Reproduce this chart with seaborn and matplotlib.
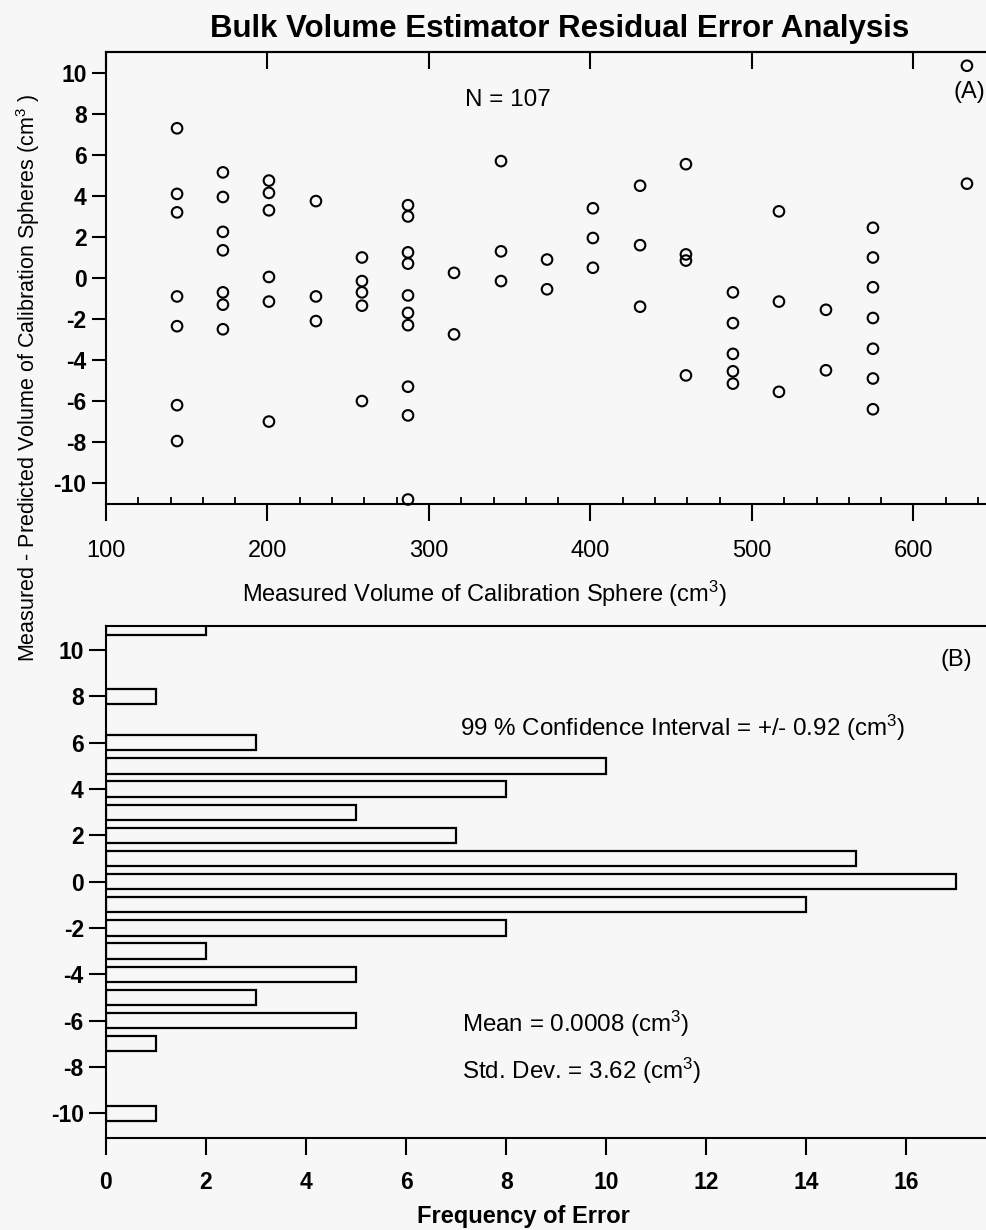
import matplotlib
matplotlib.use("Agg")
import matplotlib.pyplot as plt
from matplotlib.ticker import MultipleLocator, FixedLocator
import numpy as np
import pandas as pd
import seaborn as sns

# ---- data -------------------------------------------------------------
# calibration sphere volumes (cm^3) and the residuals observed for each
sphere_volumes = [144.0, 172.4, 200.9, 230.0, 258.5, 287.0, 315.5, 344.6, 373.1,
                  401.5, 430.7, 459.1, 488.2, 516.7, 545.8, 574.9, 633.1]
residuals_by_sphere = [
    [7.3, 4.1, 3.2, -0.9, -2.35, -6.2, -7.95],
    [5.15, 3.95, 2.25, 1.35, -0.7, -1.3, -2.5],
    [4.75, 4.15, 3.3, 0.05, -1.15, -7.0],
    [3.75, -0.9, -2.1],
    [1.0, -0.15, -0.7, -1.35, -6.0],
    [3.55, 3.0, 1.25, 0.7, -0.85, -1.7, -2.3, -5.3, -6.7, -10.8],
    [0.25, -2.75],
    [5.7, 1.3, -0.15],
    [0.9, -0.55],
    [3.4, 1.95, 0.5],
    [4.5, 1.6, -1.4],
    [5.55, 1.15, 0.85, -4.75],
    [-0.7, -2.2, -3.7, -4.55, -5.15],
    [3.25, -1.15, -5.55],
    [-1.55, -4.5],
    [2.45, 1.0, -0.45, -1.95, -3.45, -4.9, -6.4],
    [10.35, 4.6],
]

# histogram of residuals (1 cm^3 bins)
error_bins = [11, 8, 6, 5, 4, 3, 2, 1, 0, -1, -2, -3, -4, -5, -6, -7, -10]
error_counts = [2, 1, 3, 10, 8, 5, 7, 15, 17, 14, 8, 2, 5, 3, 5, 1, 1]

x_ticks_a = [100, 200, 300, 400, 500, 600]
y_ticks = [-10, -8, -6, -4, -2, 0, 2, 4, 6, 8, 10]
x_ticks_b = [0, 2, 4, 6, 8, 10, 12, 14, 16]

# ---- style ------------------------------------------------------------
BG = "#f7f7f7"
sns.set_theme(style="ticks")
plt.rcParams["font.family"] = ["Liberation Sans", "DejaVu Sans"]
plt.rcParams.update({
    "mathtext.fontset": "custom",
    "mathtext.rm": "Liberation Sans",
    "mathtext.it": "Liberation Sans:italic",
    "mathtext.bf": "Liberation Sans:bold",
    "axes.unicode_minus": False,
    "figure.facecolor": BG,
    "axes.facecolor": BG,
    "axes.edgecolor": "black",
    "axes.linewidth": 1.5,
    "text.color": "black",
    "xtick.color": "black",
    "ytick.color": "black",
})

scatter_df = pd.DataFrame({
    "volume": [v for v, rs in zip(sphere_volumes, residuals_by_sphere) for _ in rs],
    "residual": [r for rs in residuals_by_sphere for r in rs],
})
hist_df = pd.DataFrame({"error_bin": error_bins, "frequency": error_counts})

W, H = 986, 1230
fig = plt.figure(figsize=(W / 100, H / 100), dpi=100)


def fig_rect(left, top, right, bottom):
    return [left / W, 1 - bottom / H, (right - left) / W, (bottom - top) / H]


ax1 = fig.add_axes(fig_rect(106, 52, 986, 504))
ax2 = fig.add_axes(fig_rect(106, 626, 986, 1138))

# ---- panel A: residuals vs. sphere volume ------------------------------
sns.scatterplot(data=scatter_df, x="volume", y="residual", ax=ax1,
                marker="o", s=58, facecolor="none", edgecolor="black",
                linewidth=1.5, clip_on=False, zorder=3)
ax1.set_xlim(100, 644.9)
ax1.set_ylim(-11.02, 11.02)
ax1.xaxis.set_major_locator(FixedLocator(x_ticks_a))
ax1.xaxis.set_minor_locator(MultipleLocator(20))
ax1.yaxis.set_major_locator(FixedLocator(y_ticks))
ax1.tick_params(axis="x", which="major", direction="out", length=12, width=1.5,
                labelsize=17, pad=14, top=False)
ax1.tick_params(axis="x", which="minor", direction="in", length=5, width=1.3,
                top=False)
ax1.tick_params(axis="y", which="major", direction="out", length=10, width=1.5,
                labelsize=16.5, pad=4, right=False)
for lab in ax1.get_yticklabels():
    lab.set_fontweight("bold")
ax1.spines["right"].set_visible(False)
ax1.set_xlabel("")
ax1.set_ylabel("")

top_axis = ax1.secondary_xaxis("top")
top_axis.xaxis.set_major_locator(FixedLocator(x_ticks_a))
top_axis.tick_params(axis="x", direction="in", length=12, width=1.5,
                     labeltop=False)
top_axis.spines["top"].set_linewidth(1.5)

ax1.text(349, 8.7, "N = 107", fontsize=17.5, ha="center", va="center")
ax1.text(644.3, 9.05, "(A)", fontsize=17, ha="right", va="center")

# ---- panel B: histogram of residuals -----------------------------------
sns.barplot(data=hist_df, x="frequency", y="error_bin", orient="h",
            native_scale=True, width=0.66, color=BG, saturation=1,
            edgecolor="black", linewidth=1.6, errorbar=None, ax=ax2)
ax2.set_xlim(0, 17.59)
ax2.set_ylim(-11.07, 11.04)
ax2.xaxis.set_major_locator(FixedLocator(x_ticks_b))
ax2.yaxis.set_major_locator(FixedLocator(y_ticks))
ax2.tick_params(axis="x", which="major", direction="out", length=12, width=1.5,
                labelsize=16.5, pad=12, top=False)
ax2.tick_params(axis="y", which="major", direction="out", length=12, width=1.5,
                labelsize=16.5, pad=4, right=False)
for lab in ax2.get_xticklabels() + ax2.get_yticklabels():
    lab.set_fontweight("bold")
ax2.spines["right"].set_visible(False)
ax2.set_xlabel("")
ax2.set_ylabel("")

ax2.text(17.31, 9.58, "(B)", fontsize=17, ha="right", va="center")
ax2.text(7.08, 6.31, "99 % Confidence Interval = +/- 0.92 (cm$^{3}$)",
         fontsize=17.4, ha="left", va="baseline")
ax2.text(7.12, -6.48, "Mean = 0.0008 (cm$^{3}$)", fontsize=17.4,
         ha="left", va="baseline")
ax2.text(7.12, -8.52, "Std. Dev. = 3.62 (cm$^{3}$)", fontsize=17.4,
         ha="left", va="baseline")

# ---- titles and shared labels -----------------------------------------
fig.text(560 / W, 1 - 37 / H, "Bulk Volume Estimator Residual Error Analysis",
         fontsize=22.5, fontweight="bold", ha="center", va="baseline")
fig.text(242 / W, 1 - 601.7 / H,
         "Measured Volume of Calibration Sphere (cm$^{3}$)",
         fontsize=17, ha="left", va="baseline")
fig.text(417 / W, 1 - 1223 / H, "Frequency of Error",
         fontsize=17, fontweight="bold", ha="left", va="baseline")
fig.text(28 / W, 1 - 378 / H,
         "Measured - Predicted Volume of Calibration Spheres (cm$^{3}$ )",
         fontsize=15.5, rotation=90, ha="center", va="center")

fig.savefig("out.png", dpi=100, facecolor=BG)
